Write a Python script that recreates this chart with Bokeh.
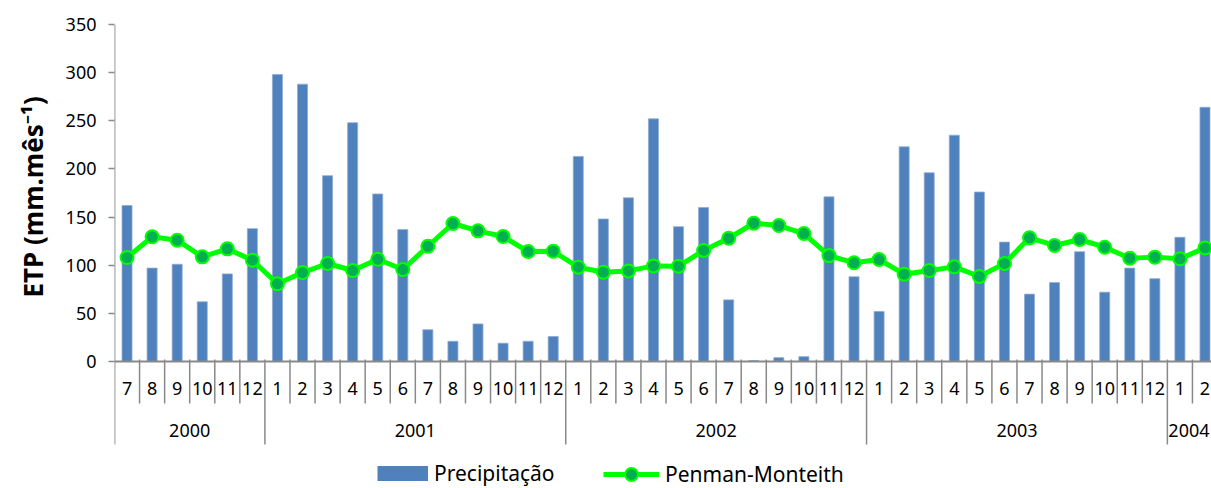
import numpy as np
from bokeh.plotting import figure
from bokeh.models import (ColumnDataSource, Range1d, FixedTicker, Legend, LegendItem, Title)
from bokeh.core.properties import value
from bokeh.embed import file_html
from bokeh.resources import INLINE

# ---- data ----
years = [2000]*6 + [2001]*12 + [2002]*12 + [2003]*12 + [2004]*2
months = [7, 8, 9, 10, 11, 12] + list(range(1, 13))*3 + [1, 2]
precipitacao = [162, 97, 101, 62, 91, 138,
                298, 288, 193, 248, 174, 137, 33, 21, 39, 19, 21, 26,
                213, 148, 170, 252, 140, 160, 64, 1, 4, 5, 171, 88,
                52, 223, 196, 235, 176, 124, 70, 82, 114, 72, 97, 86,
                129, 264]
penman = [108, 129.5, 126, 108.7, 117, 105.2,
          80.7, 92.4, 101.8, 94.5, 106.2, 95.5, 119.7, 143.3, 135.7, 129.8, 114.2, 114.5,
          97.9, 92.7, 94.1, 99.3, 99, 115.3, 128, 143.6, 141.2, 132.9, 110, 102.5,
          105.9, 90.7, 94.5, 98.3, 88.3, 101.8, 128.4, 120.5, 126.7, 118.7, 107.3, 108.4,
          106.6, 118]
y_ticks = [0, 50, 100, 150, 200, 250, 300, 350]

FONT = "Noto Sans"
GRAY = "#898989"
BLUE = "#4F81BD"

n = len(months)
x = np.arange(n) + 0.5
X_END = 43.76
src = ColumnDataSource(dict(x=x, prec=precipitacao, pm=penman,
                            mlab=[str(m) for m in months],
                            nan=[np.nan]*n))

p = figure(width=1211, height=488, output_backend="svg", toolbar_location=None,
           x_range=Range1d(0, X_END), y_range=Range1d(-131.9, 350),
           x_axis_type=None)
p.min_border_left = 114
p.min_border_right = 0
p.min_border_top = 24
p.min_border_bottom = 0
p.outline_line_color = None
p.grid.visible = False
p.background_fill_color = "white"

yax = p.yaxis[0]
yax.ticker = FixedTicker(ticks=y_ticks)
yax.axis_line_color = None
yax.major_tick_line_color = GRAY
yax.major_tick_line_width = 1.5
yax.major_tick_out = 6
yax.major_tick_in = 0
yax.minor_tick_line_color = None
yax.major_label_text_font = FONT
yax.major_label_text_font_size = "18px"
yax.major_label_text_color = "black"
yax.major_label_standoff = 12

# y-axis title, placed over the 0..350 span
ytitle = Title(text="ETP (mm.mês⁻¹)", align="left", offset=191,
               text_font=FONT, text_font_size="26px", text_font_style="bold",
               text_color="black", standoff=23)
p.add_layout(ytitle, "left")

# bars
bars = p.vbar(x="x", top="prec", width=0.4, bottom=0, source=src,
              fill_color=BLUE, line_color="#8EACD6", line_width=0.8)

# axes lines drawn in data space
bounds = list(range(n + 1))
year_bounds = [0] + [i for i in range(1, n) if years[i] != years[i - 1]]
p.segment(x0=[0], y0=[0], x1=[n], y1=[0], line_color=GRAY, line_width=1.8)
p.segment(x0=[0], y0=[-86.2], x1=[0], y1=[350], line_color=GRAY, line_width=1.8)
mb = [b for b in bounds if b not in year_bounds]
p.segment(x0=mb, y0=[2]*len(mb), x1=mb, y1=[-43.6]*len(mb), line_color=GRAY, line_width=1.5)
yb = [b for b in year_bounds if b != 0]
p.segment(x0=yb, y0=[2]*len(yb), x1=yb, y1=[-86.2]*len(yb), line_color=GRAY, line_width=1.5)

# month labels
p.text(x="x", y=-28, text="mlab", source=src, text_font=value(FONT),
       text_font_size="18px", text_align="center", text_baseline="middle",
       text_color="black")
# year labels (last one kept inside the visible edge)
uy = sorted(set(years))
ycent = [min(np.mean([x[i] for i in range(n) if years[i] == yy]), X_END - 0.9) for yy in uy]
p.text(x=ycent, y=[-71.7]*len(uy), text=[str(yy) for yy in uy], text_font=value(FONT),
       text_font_size="18px", text_align="center", text_baseline="middle",
       text_color="black")

# line
ln = p.line(x="x", y="pm", source=src, line_color="#00FF00", line_width=5)
pts = p.scatter(x="x", y="pm", source=src, size=13, fill_color="#00B050",
                line_color="#00FF00", line_width=2)

# legend swatch for the bars: thick butt-capped stroke (no visible data), centred on label
swatch = p.line(x="x", y="nan", source=src, line_color=BLUE, line_width=15, line_cap="butt")


def style(lg):
    lg.label_text_font = FONT
    lg.label_text_font_size = "21px"
    lg.label_text_color = "black"
    lg.label_standoff = 6
    lg.padding = 0
    lg.margin = 0
    lg.border_line_color = None
    lg.background_fill_alpha = 0


leg1 = Legend(items=[LegendItem(label="Precipitação", renderers=[swatch])],
              orientation="horizontal", location=(263, 1))
style(leg1)
leg1.glyph_width = 51
leg1.glyph_height = 26
leg2 = Legend(items=[LegendItem(label="Penman-Monteith", renderers=[ln, pts])],
              orientation="horizontal", location=(489, -2))
style(leg2)
leg2.glyph_width = 56
leg2.glyph_height = 32
p.add_layout(leg1)
p.add_layout(leg2)

open("out.html", "w").write(file_html(p, INLINE))
